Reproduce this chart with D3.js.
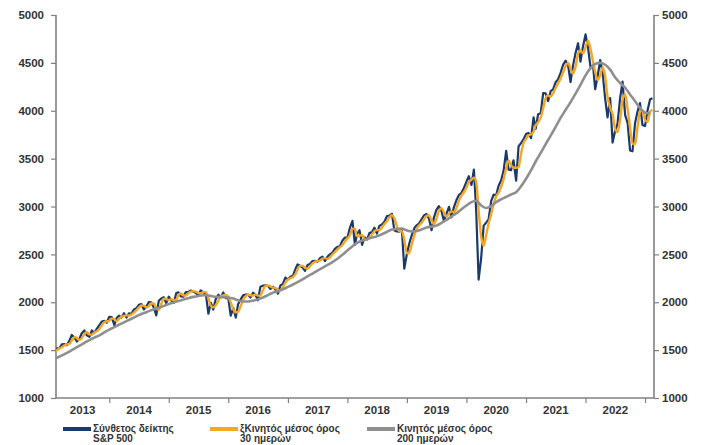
<!DOCTYPE html>
<html>
<head>
<meta charset="utf-8">
<script src="https://cdn.jsdelivr.net/npm/d3@7"></script>
<style>
  html, body { margin: 0; padding: 0; background: #fff; }
  svg { display: block; }
  text { font-family: "Liberation Sans", Arial, sans-serif; }
</style>
</head>
<body>
<svg id="chart" width="707" height="445"></svg>
<script>
// ---------------- DATA ----------------
// Semi-monthly observations (1st and 16th of each month) from 1 Feb 2013 to 16 Feb 2023
const seriesStart = "2013-02";
const spxValues = [
  1513,1519, 1518,1560, 1562,1552, 1597,1658, 1631,1590, 1614,1676, 1706,1655, 1639,1705, 1681,1721, 1761,1798, 1806,1786,
  1848,1845, 1760,1838, 1859,1841, 1885,1840, 1883,1878, 1924,1937, 1973,1981, 1925,1955, 2003,1998, 1946,1862, 2018,2039, 2053,1990,
  2058,2019, 1995,2096, 2104,2060, 2059,2106, 2108,2122, 2111,2096, 2077,2124, 2103,2092, 1880,1995, 1923,2033, 2079,2053, 2102,2043,
  2044,1860, 1939,1840, 1978,2027, 2072,2081, 2081,2050, 2099,2077, 2020,2161, 2173,2178, 2170,2139, 2161,2133, 2090,2176, 2191,2258,
  2239,2267, 2279,2347, 2395,2381, 2363,2329, 2388,2400, 2430,2433, 2423,2459, 2476,2430, 2476,2500, 2519,2557, 2579,2585, 2642,2675,
  2674,2776, 2850,2600, 2713,2752, 2600,2678, 2654,2722, 2734,2779, 2718,2798, 2813,2840, 2901,2905, 2924,2750, 2740,2736, 2760,2351,
  2507,2616, 2706,2775, 2803,2822, 2867,2907, 2923,2876, 2752,2887, 2964,3004, 2953,2850, 2926,2997, 2887,2990, 3067,3120, 3141,3191,
  3258,3316, 3225,3386, 2954,2237, 2470,2800, 2831,2864, 3055,3124, 3115,3215, 3271,3373, 3580,3385, 3380,3483, 3270,3627, 3662,3701,
  3756,3768, 3714,3932, 3811,3963, 3973,4185, 4181,4100, 4204,4223, 4297,4327, 4395,4479, 4523,4473, 4300,4471, 4605,4705, 4513,4669,
  4797,4663, 4450,4475, 4225,4358, 4530,4393, 4132,3930, 4132,3667, 3785,3863, 4130,4305, 3955,3873, 3586,3577, 3872,3992, 4080,3852,
  3840,3999, 4120,4130
];
const ma30Values = [
  1480,1504, 1517,1529, 1550,1559, 1566,1601, 1636,1628, 1606,1624, 1668,1686, 1664,1660, 1683,1697, 1721,1760, 1791,1799,
  1807,1832, 1825,1801, 1824,1849, 1857,1863, 1862,1871, 1891,1916, 1943,1966, 1965,1947, 1960,1990, 1987,1938, 1922,1985, 2037,2034,
  2023,2032, 2023,2027, 2073,2091, 2071,2071, 2095,2111, 2116,2110, 2095,2094, 2107,2106, 2042,1962, 1948,1969, 2017,2061, 2072,2075,
  2058,1998, 1926,1895, 1900,1956, 2026,2063, 2079,2073, 2070,2081, 2069,2069, 2129,2171, 2175,2165, 2152,2149, 2129,2122, 2159,2204,
  2237,2251, 2264,2293, 2342,2380, 2380,2359, 2352,2376, 2405,2423, 2430,2435, 2455,2461, 2453,2471, 2499,2524, 2553,2575, 2598,2636,
  2667,2700, 2769,2769, 2691,2695, 2704,2658, 2653,2677, 2708,2743, 2753,2754, 2782,2816, 2848,2887, 2909,2876, 2791,2742, 2743,2652,
  2510,2520, 2611,2701, 2765,2801, 2829,2866, 2901,2908, 2857,2817, 2873,2955, 2981,2940, 2895,2925, 2952,2940, 2984,3061, 3112,3149,
  3195,3256, 3279,3300, 3260,2960, 2680,2590, 2700,2820, 2920,3025, 3105,3143, 3204,3283, 3400,3479, 3433,3407, 3404,3413, 3547,3663,
  3705,3745, 3752,3782, 3848,3880, 3928,4024, 4131,4162, 4146,4183, 4237,4286, 4337,4399, 4469,4500, 4442,4386, 4462,4597, 4632,4600,
  4662,4732, 4643,4510, 4406,4321, 4368,4453, 4362,4147, 4031,3966, 3813,3776, 3910,4107, 4174,4022, 3822,3655, 3653,3828, 3984,4001,
  3906,3883, 3990,4010
];
// Monthly observations (1st of each month) from Feb 2013 to Feb 2023
const ma200Values = [
  1410,1432,1458,1485,1515,1545,1575,1605,1630,1655,1685,
  1715,1740,1765,1790,1815,1840,1865,1887,1907,1927,1943,1962,
  1982,1998,2013,2028,2043,2056,2066,2073,2070,2060,2056,2053,
  2050,2038,2020,2008,2008,2016,2030,2050,2075,2100,2115,2135,
  2160,2185,2210,2240,2270,2300,2330,2360,2390,2420,2455,2495,
  2540,2585,2620,2645,2660,2675,2690,2710,2735,2760,2765,2770,
  2750,2740,2745,2760,2780,2790,2800,2830,2860,2895,2930,2970,
  3010,3045,3060,3010,2985,3005,3045,3075,3100,3125,3150,3210,
  3290,3380,3470,3560,3650,3740,3830,3925,4010,4090,4180,4270,
  4370,4445,4488,4500,4480,4430,4350,4290,4240,4170,4100,4030,
  3980,3970
];
const yTickValues = [1000, 1500, 2000, 2500, 3000, 3500, 4000, 4500, 5000];
const yearLabels = [2013, 2014, 2015, 2016, 2017, 2018, 2019, 2020, 2021, 2022];
const legendLabels = [
  ["Σύνθετος δείκτης", "S&P 500"],
  ["ξΚινητός μέσος όρος", "30 ημερών"],
  ["Κινητός μέσος όρος", "200 ημερών"]
];
const seriesColors = ["#1b3a6b", "#f5a623", "#8f8f8f"];

// ---------------- LAYOUT ----------------
const pLeft = 56, pRight = 654, pTop = 15, pBottom = 398;
const svg = d3.select("#chart");

const [sy, sm] = seriesStart.split("-").map(Number);
const semiDate = i => new Date(sy, sm - 1 + Math.floor(i / 2), i % 2 ? 16 : 1);
const monthDate = i => new Date(sy, sm - 1 + i, 1);

const x = d3.scaleTime()
  .domain([new Date(2013, 1, 8), new Date(2023, 1, 25)])
  .range([pLeft, pRight]);
const y = d3.scaleLinear().domain([1000, 5000]).range([pBottom, pTop]);

const spx = spxValues.map((v, i) => ({ d: semiDate(i), v }));
const ma30 = ma30Values.map((v, i) => ({ d: semiDate(i), v }));
const ma200 = ma200Values.map((v, i) => ({ d: monthDate(i), v }));

svg.append("defs").append("clipPath").attr("id", "clip")
  .append("rect").attr("x", pLeft).attr("y", pTop - 5).attr("width", pRight - pLeft).attr("height", pBottom - pTop + 5);

const axisColor = "#808080";
const textColor = "#333333";

const yAxisL = d3.axisLeft(y).tickValues(yTickValues).tickSize(5).tickPadding(7).tickFormat(d3.format("d"));
const gL = svg.append("g").attr("transform", `translate(${pLeft},0)`).call(yAxisL);
const yAxisR = d3.axisRight(y).tickValues(yTickValues).tickSize(5).tickPadding(3).tickFormat(d3.format("d"));
const gR = svg.append("g").attr("transform", `translate(${pRight},0)`).call(yAxisR);
const yearTicks = d3.range(2014, 2024).map(yy => new Date(yy, 0, 1));
const xAxis = d3.axisBottom(x).tickValues(yearTicks).tickSize(5).tickFormat("");
const gX = svg.append("g").attr("transform", `translate(0,${pBottom})`).call(xAxis);

[gL, gR, gX].forEach(g => {
  g.select(".domain").attr("stroke", axisColor).attr("stroke-width", 1.6);
  g.selectAll(".tick line").attr("stroke", axisColor).attr("stroke-width", 1.2);
  g.selectAll("text").attr("fill", textColor).attr("font-size", "11.5px").attr("font-weight", "bold")
    .attr("font-family", "'Liberation Sans', Arial, sans-serif");
});
gL.select(".domain").attr("d", `M0,${pTop}V${pBottom}`);
gR.select(".domain").attr("d", `M0,${pTop}V${pBottom}`);
gX.select(".domain").attr("d", `M${pLeft},0H${pRight}`);

const [d0, d1] = x.domain();
svg.append("g").selectAll("text").data(yearLabels).join("text")
  .attr("x", yy => {
    const a = Math.max(+new Date(yy, 0, 1), +d0);
    const b = Math.min(+new Date(yy + 1, 0, 1), +d1);
    return (x(new Date(a)) + x(new Date(b))) / 2;
  })
  .attr("y", 414)
  .attr("text-anchor", "middle")
  .attr("fill", textColor)
  .attr("font-size", "11.5px")
  .attr("font-weight", "bold")
  .text(d => d);

const plot = svg.append("g").attr("clip-path", "url(#clip)");
const line = d3.line().x(p => x(p.d)).y(p => y(p.v));
const smooth = d3.line().x(p => x(p.d)).y(p => y(p.v)).curve(d3.curveMonotoneX);

plot.append("path").datum(spx).attr("d", line)
  .attr("fill", "none").attr("stroke", seriesColors[0]).attr("stroke-width", 2.2).attr("stroke-linejoin", "round");
plot.append("path").datum(ma30).attr("d", smooth)
  .attr("fill", "none").attr("stroke", seriesColors[1]).attr("stroke-width", 2.4).attr("stroke-linejoin", "round");
plot.append("path").datum(ma200).attr("d", smooth)
  .attr("fill", "none").attr("stroke", seriesColors[2]).attr("stroke-width", 2.6).attr("stroke-linejoin", "round");

const legendX = [63, 210, 367];
const lg = svg.append("g");
legendLabels.forEach((lines, i) => {
  lg.append("rect").attr("x", legendX[i]).attr("y", 427).attr("width", 28).attr("height", 4)
    .attr("fill", seriesColors[i]);
  lines.forEach((t, j) => {
    lg.append("text").attr("x", legendX[i] + 30).attr("y", 432 + j * 10)
      .attr("fill", textColor).attr("font-size", "10px").attr("font-weight", "bold")
      .text(t);
  });
});
</script>
</body>
</html>
